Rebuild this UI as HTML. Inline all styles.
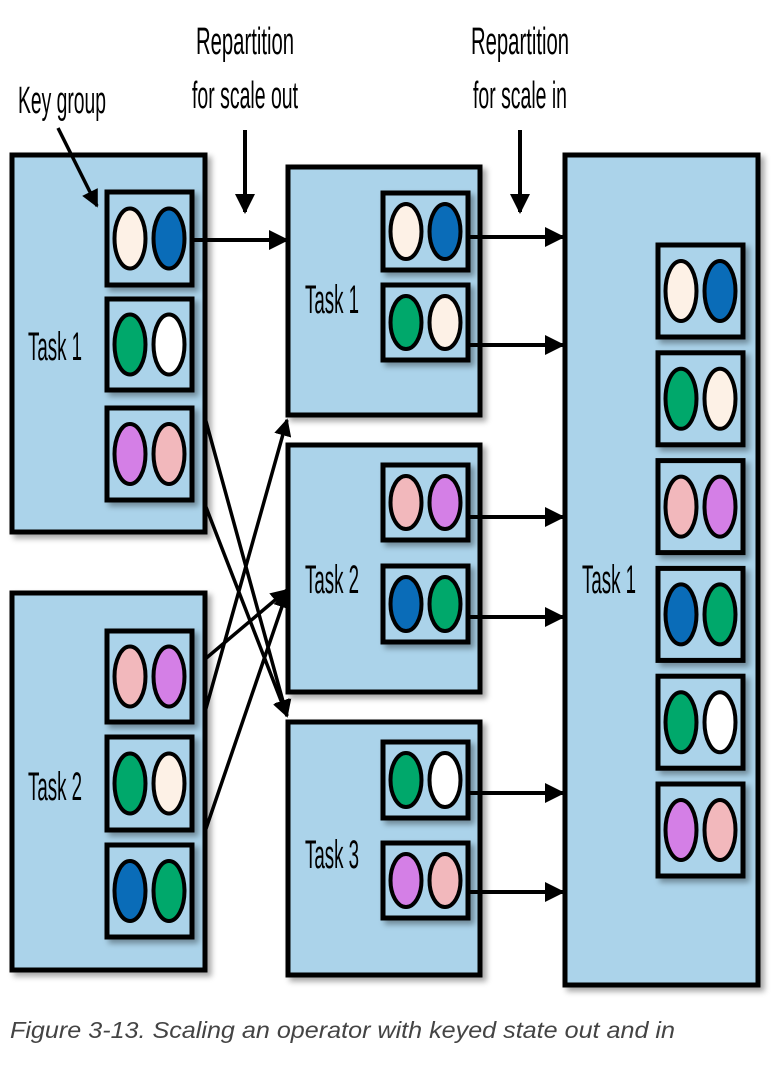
<!DOCTYPE html>
<html><head><meta charset="utf-8"><style>
body{margin:0;background:#fff;width:772px;height:1066px;overflow:hidden}
svg{display:block}
text{font-family:"Liberation Sans Narrow","Liberation Sans",sans-serif}
</style></head><body>
<svg width="772" height="1066" viewBox="0 0 772 1066">
<defs>
<filter id="sh" x="-10%" y="-10%" width="130%" height="130%"><feDropShadow dx="4" dy="4" stdDeviation="3" flood-color="#000" flood-opacity="0.35"/></filter>
<marker id="ah" viewBox="0 0 10 10" refX="9" refY="5" markerWidth="5" markerHeight="5" orient="auto"><path d="M0,0 L10,5 L0,10 z" fill="#000"/></marker>
</defs>
<g id="g"></g>
<text x="18" y="113" font-size="38" textLength="88" lengthAdjust="spacingAndGlyphs">Key group</text>
<text x="245" y="54" font-size="38" text-anchor="middle" textLength="98" lengthAdjust="spacingAndGlyphs">Repartition</text>
<text x="245" y="108" font-size="38" text-anchor="middle" textLength="106" lengthAdjust="spacingAndGlyphs">for scale out</text>
<text x="520" y="54" font-size="38" text-anchor="middle" textLength="98" lengthAdjust="spacingAndGlyphs">Repartition</text>
<text x="520" y="108" font-size="38" text-anchor="middle" textLength="94" lengthAdjust="spacingAndGlyphs">for scale in</text>
<text x="10" y="1038" font-size="23" font-style="italic" fill="#444" textLength="665" lengthAdjust="spacingAndGlyphs" style="font-family:'Liberation Sans',sans-serif">Figure 3-13. Scaling an operator with keyed state out and in</text>
</svg>
<script>
const NS='http://www.w3.org/2000/svg';
const g=document.getElementById('g');
const C={cream:'#fdf1e6',blue:'#0a6cb8',green:'#00a86b',white:'#ffffff',purple:'#d47fe6',pink:'#f2b8bc'};
function el(t,a){const e=document.createElementNS(NS,t);for(const k in a)e.setAttribute(k,a[k]);g.appendChild(e);return e;}
function task(x,y,w,h,label,lx,ly,name){
  const r=el('rect',{x:x,y:y,width:w,height:h,fill:'#abd3ea',stroke:'#000','stroke-width':5,filter:'url(#sh)'});
  
  
  const t=el('text',{x:lx,y:ly,'font-size':40,textLength:54,lengthAdjust:'spacingAndGlyphs'});
  t.textContent=label;
  
  
}
function kg(x,y,h,c1,c2,name){
  const r=el('rect',{x:x,y:y,width:85,height:h,fill:'#abd3ea',stroke:'#000','stroke-width':5,filter:'url(#sh)'});
  
  
  const cy=y+h/2;
  [[x+23,c1],[x+62,c2]].forEach(([cx,c])=>{
    const e=el('ellipse',{cx:cx,cy:cy,rx:15.5,ry:Math.min(30,h/2-11),fill:C[c],stroke:'#000','stroke-width':4});
    
    
  });
}
function arrow(x1,y1,x2,y2,w){
  const l=el('line',{x1:x1,y1:y1,x2:x2,y2:y2,stroke:'#000','stroke-width':w||4,'marker-end':'url(#ah)'});
  
  
}
arrow(185,345,287,716,3.5);
arrow(185,453,287,716,3.5);
arrow(185,676,287,590,3.5);
arrow(185,783,287,420,3.5);
arrow(185,890,287,592,3.5);
task(12,155,193,377,'Task 1',28,360,'left-task-1');
kg(107,192,93,'cream','blue','left-t1-group-1');
kg(107,299,91,'green','white','left-t1-group-2');
kg(107,408,92,'purple','pink','left-t1-group-3');
task(12,593,193,377,'Task 2',28,800,'left-task-2');
kg(107,631,91,'pink','purple','left-t2-group-1');
kg(107,737,93,'green','cream','left-t2-group-2');
kg(107,845,92,'blue','green','left-t2-group-3');
task(288,167,192,248,'Task 1',305,313,'mid-task-1');
kg(383,193,77,'cream','blue','mid-t1-group-1');
kg(383,285,75,'green','cream','mid-t1-group-2');
task(288,445,192,247,'Task 2',305,593,'mid-task-2');
kg(383,465,75,'pink','purple','mid-t2-group-1');
kg(383,566,76,'blue','green','mid-t2-group-2');
task(288,722,192,253,'Task 3',305,868,'mid-task-3');
kg(383,742,76,'green','white','mid-t3-group-1');
kg(383,843,75,'purple','pink','mid-t3-group-2');
task(565,155,193,830,'Task 1',582,593,'right-task-1');
const rc=[['cream','blue'],['green','cream'],['pink','purple'],['blue','green'],['green','white'],['purple','pink']];
rc.forEach((p,i)=>kg(658,245+i*107.8,92,p[0],p[1],'right-group-'+(i+1)));
arrow(192,240,287,240);
[237,345,517,617,793,892].forEach(y=>arrow(468,y,563,y));
arrow(245,130,245,212);
arrow(520,130,520,212);
arrow(58,128,97,206,3.5);
</script>
</body></html>
